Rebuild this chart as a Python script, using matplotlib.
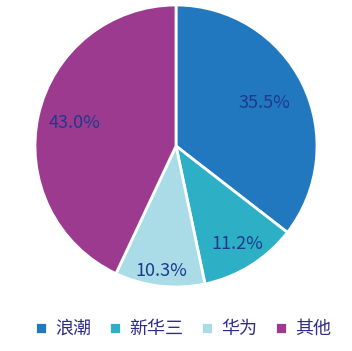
import matplotlib
matplotlib.use("Agg")
import matplotlib.pyplot as plt
import numpy as np

plt.rcParams['font.family'] = ['Noto Sans CJK SC', 'DejaVu Sans']

categories = ['浪潮', '新华三', '华为', '其他']
values = [35.5, 11.2, 10.3, 43.0]
colors = ['#2278BE', '#2DB0C6', '#A9DCE7', '#9C3A8F']
label_r = [0.70, 0.82, 0.89, 0.74]

fig = plt.figure(figsize=(3.52, 3.51), dpi=100)
ax = fig.add_axes([0.5 - 141/352, 1 - 287/351, 282/352, 282/351])
wedges, _ = ax.pie(values, colors=colors, startangle=90, counterclock=False,
                   wedgeprops=dict(edgecolor='white', linewidth=2))
for w, v, r in zip(wedges, values, label_r):
    ang = np.deg2rad((w.theta1 + w.theta2) / 2)
    ax.text(r * np.cos(ang), r * np.sin(ang), f'{v:.1f}%', ha='center', va='center',
            fontsize=13, color='#1C3A8C')
ax.set_aspect('equal')
ax.set_xlim(-1.0, 1.0)
ax.set_ylim(-1.0, 1.0)

fig.legend(wedges, categories, loc='center', bbox_to_anchor=(0.52, 1 - 329/351), ncol=4,
           frameon=False, fontsize=13, handlelength=0.65, handleheight=0.65,
           handletextpad=0.45, columnspacing=1.0, labelcolor='#2E2E86')
fig.savefig('out.png', dpi=100)
